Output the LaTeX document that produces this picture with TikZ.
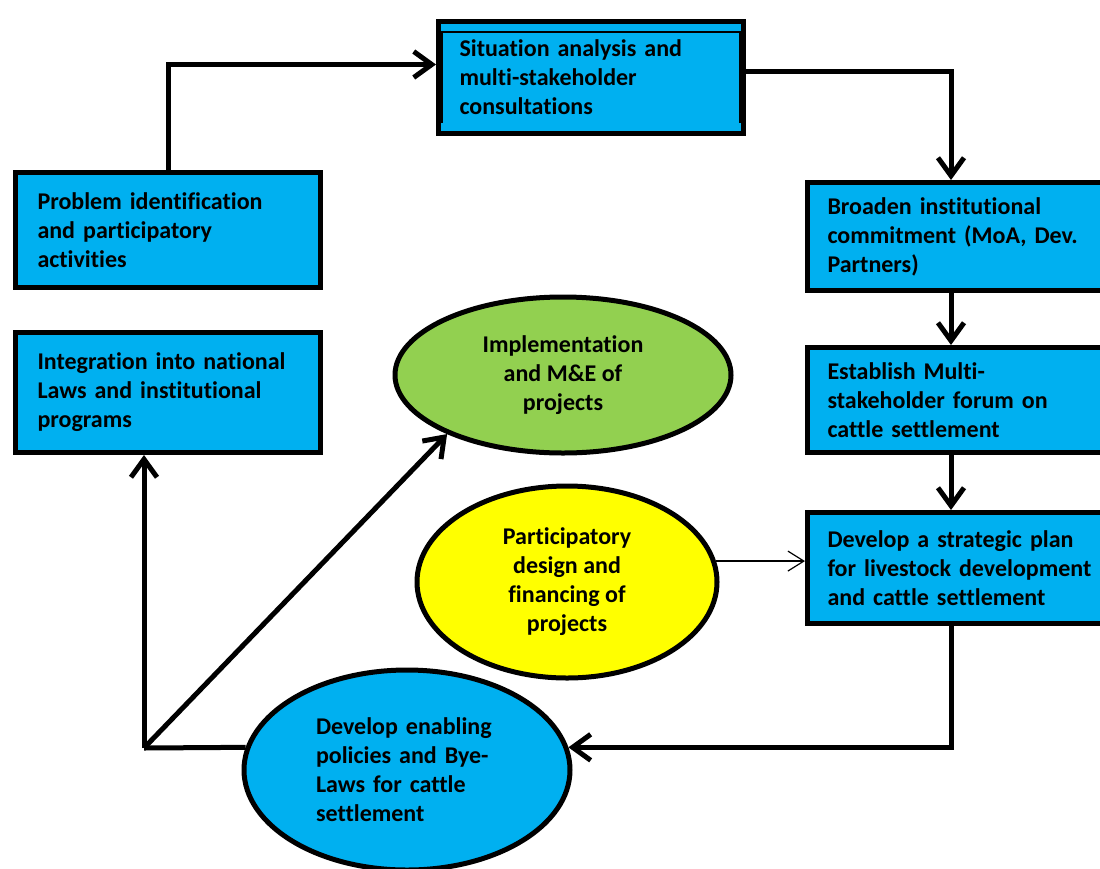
\documentclass[tikz,border=0pt]{standalone}
\usepackage{fontspec}
\setmainfont[Ligatures=NoCommon]{Carlito}
\usetikzlibrary{arrows.meta,shapes.geometric}
\definecolor{cajaazul}{HTML}{00B0F0}
\definecolor{verdehoja}{HTML}{92D050}
\definecolor{amarillo}{HTML}{FFFF00}

\begin{document}
\begin{tikzpicture}[x=1pt,y=-1pt,
	every node/.style={font=\fontsize{24}{29}\selectfont\bfseries},
	caja/.style={draw,line width=5pt,fill=cajaazul,rectangle,anchor=north west,align=left,inner ysep=0pt},
	elipse/.style={draw,line width=5pt,ellipse,inner sep=0pt},
	flecha/.style={line width=5pt,-{Straight Barb[length=18pt,width=26pt]}},
	flechita/.style={line width=1.2pt,-{Straight Barb[length=16pt,width=20pt]}}]
		%Recortarlo
		\useasboundingbox (0,0) rectangle (1100,868);
		\clip (0,0) rectangle (1100,868);

		%Cajas de la izquierda y de arriba
		\node[caja,minimum width=305,minimum height=115,text width=261] (prob) at (13,170)
			{Problem identification\\and participatory\\activities};
		\node[caja,minimum width=305,minimum height=120,text width=261] (integ) at (13,330)
			{Integration into national\\Laws and institutional\\programs};
		\node[caja,minimum width=305,minimum height=112,text width=263] (situ) at (436,19)
			{Situation analysis and\\multi-stakeholder\\consultations};
		\draw[line width=1.5pt] ([shift={(6,104)}]situ.north west) -- ([shift={(6,13)}]situ.north west)
			-- ([shift={(-6,13)}]situ.north east) -- ([shift={(-6,104)}]situ.north east);

		%Cajas de la derecha
		\node[caja,minimum width=310,minimum height=108,text width=270] (broad) at (805,180)
			{Broaden institutional\\commitment (MoA, Dev.\\Partners)};
		\node[caja,minimum width=310,minimum height=105,text width=270] (estab) at (805,345)
			{Establish Multi-\\stakeholder forum on\\cattle settlement};
		\node[caja,minimum width=310,minimum height=111,text width=270] (strat) at (805,510)
			{Develop a strategic plan\\for livestock development\\and cattle settlement};

		%Elipses
		\node[elipse,fill=verdehoja,minimum width=336,minimum height=156,align=center] (impl) at (563,375)
			{Implementation\\and M\&E of\\projects};
		\node[elipse,fill=amarillo,minimum width=300,minimum height=192,align=center] (design) at (567,582)
			{Participatory\\design and\\financing of\\projects};
		\node[elipse,fill=cajaazul,minimum width=326,minimum height=200,text width=182,align=left] (policy) at (407,770)
			{Develop enabling\\policies and Bye-\\Laws for cattle\\settlement};

		%Puntos de quiebre
		\coordinate (spine) at (951,0);
		\coordinate (knee) at (144,748);

		%Flechas
		\draw[flecha] (prob.north) |- ([yshift=13pt]situ.west);
		\draw[flecha] ([yshift=6pt]situ.east) -| (spine |- broad.north);
		\draw[flecha] (spine |- broad.south) -- (spine |- estab.north);
		\draw[flecha] (spine |- estab.south) -- (spine |- strat.north);
		\draw[flecha] (spine |- strat.south) |- (policy.8);
		\draw[flechita] (design.8) -- (design.8 -| strat.west);
		\draw[line width=5pt] (policy.172) -- (knee);
		\draw[flecha] (knee) -- (knee |- integ.south);
		\draw[flecha] (knee) -- (impl.207);

	\end{tikzpicture}
\end{document}
